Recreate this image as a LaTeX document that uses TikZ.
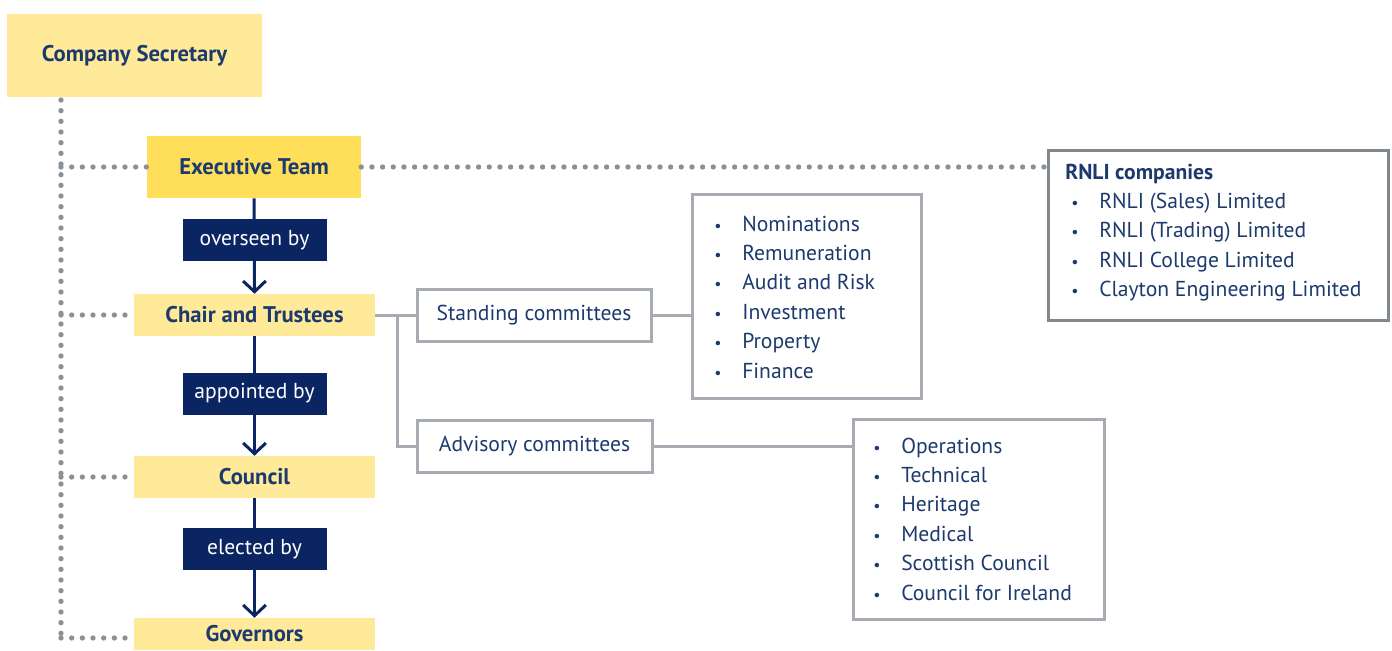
\documentclass[tikz,border=0pt]{standalone}
\usepackage{fontspec}
\setmainfont{PT Sans}
\usetikzlibrary{arrows.meta}
\definecolor{ylight}{HTML}{FEEA98}
\definecolor{ybright}{HTML}{FFDF5A}
\definecolor{navy}{HTML}{0B2562}
\definecolor{tnavy}{HTML}{1D3A6E}
\definecolor{gline}{HTML}{A6ACB1}
\definecolor{gdot}{HTML}{8A9196}
\definecolor{gdark}{HTML}{80888D}
\tikzset{
  mainbox/.style={fill=ylight, text=tnavy, font=\bfseries\fontsize{17}{20}\selectfont, inner sep=0pt},
  labbox/.style={fill=navy, text=white, font=\fontsize{16.2}{19}\selectfont, inner sep=0pt, minimum width=108pt, minimum height=31.5pt},
  comm/.style={draw=gline, line width=2.25pt, fill=white, text=tnavy, font=\fontsize{16.2}{19}\selectfont, inner sep=0pt},
  listbox/.style={draw=gline, line width=2.25pt, fill=white, inner sep=0pt},
  item/.style={text=tnavy, font=\fontsize{16.2}{19}\selectfont, anchor=base west, inner sep=0pt},
  bul/.style={text=tnavy, font=\fontsize{12}{14}\selectfont, anchor=base, inner sep=0pt},
  navyarrow/.style={draw=navy, line width=2.25pt, -{Straight Barb[length=8pt,width=17pt,line width=2.25pt]}},
  grayline/.style={draw=gline, line width=2.25pt},
  dotline/.style={draw=gdot, line width=4pt, line cap=round, dash pattern=on 0pt off 8pt}
}
\begin{document}
\begin{tikzpicture}[x=0.75pt,y=-0.75pt]
\useasboundingbox (0,0) rectangle (1392,650);
% main column
\node[mainbox, minimum width=191.25pt, minimum height=62.25pt] (cs) at (134.5,55.5) {Company Secretary};
\node[mainbox, fill=ybright, minimum width=160.5pt, minimum height=46.5pt] (exec) at (254,167) {Executive Team};
\node[mainbox, minimum width=180.75pt, minimum height=31.5pt] (chair) at (254.5,315) {Chair and Trustees};
\node[mainbox, minimum width=180.75pt, minimum height=31.5pt] (council) at (254.5,477) {Council};
\node[mainbox, minimum width=180.75pt, minimum height=24pt] (gov) at (254.5,634) {Governors};
% dotted lines
\coordinate (dtop) at (61,100);
\coordinate (dbot) at (61,638);
\draw[dotline] (dtop) -- (dbot);
\draw[dotline] (dtop |- exec.west) -- (exec.west);
\draw[dotline] (dtop |- chair.west) -- (chair.west);
\draw[dotline] (dtop |- council.west) -- (council.west);
\draw[dotline] (dbot) -- (gov.west |- dbot);
% navy arrows
\draw[navyarrow] (exec.south) -- (chair.north);
\draw[navyarrow] (chair.south) -- (council.north);
\draw[navyarrow] (council.south) -- (gov.north);
\node[labbox] (l1) at (254.5,240) {overseen by};
\node[labbox] (l2) at (254.5,393.5) {appointed by};
\node[labbox] (l3) at (254.5,549) {elected by};
% committees
\node[comm, minimum width=175.5pt, minimum height=39pt] (stand) at (534,315) {Standing committees};
\node[comm, minimum width=176.25pt, minimum height=39pt] (adv) at (534.5,446) {Advisory committees};
\node[listbox, minimum width=171.75pt, minimum height=153pt] (slist) at (806.5,296) {};
\node[listbox, minimum width=188.25pt, minimum height=150pt] (alist) at (978.5,519) {};
\node[listbox, draw=gdark, minimum width=255pt, minimum height=127.5pt] (rnli) at (1218,235) {};
\draw[dotline] (exec.east) -- (rnli.west |- exec.east);
\coordinate (br) at (397,315);
\draw[grayline] (chair.east) -- (stand.west);
\draw[grayline] (br) |- (adv.west);
\draw[grayline] (stand.east) -- (stand.east -| slist.west);
\draw[grayline] (adv.east) -- (adv.east -| alist.west);
% standing list
\foreach \t [count=\i] in {Nominations,Remuneration,Audit and Risk,Investment,Property,Finance}{
  \node[bul] (sb\i) at (718,{231+29.4*(\i-1)}) {•};
  \node[item] (si\i) at (742,{231+29.4*(\i-1)}) {\t};
}
% advisory list
\foreach \t [count=\i] in {Operations,Technical,Heritage,Medical,Scottish Council,Council for Ireland}{
  \node[bul] (ab\i) at (877,{453+29.4*(\i-1)}) {•};
  \node[item] (ai\i) at (901,{453+29.4*(\i-1)}) {\t};
}
% RNLI companies
\node[item, font=\bfseries\fontsize{16.2}{19}\selectfont] (rt) at (1065,179) {RNLI companies};
\foreach \t [count=\i] in {RNLI (Sales) Limited,RNLI (Trading) Limited,RNLI College Limited,Clayton Engineering Limited}{
  \node[bul] (rb\i) at (1075,{208+29.6*(\i-1)}) {•};
  \node[item] (ri\i) at (1099,{208+29.6*(\i-1)}) {\t};
}
\end{tikzpicture}
\end{document}
